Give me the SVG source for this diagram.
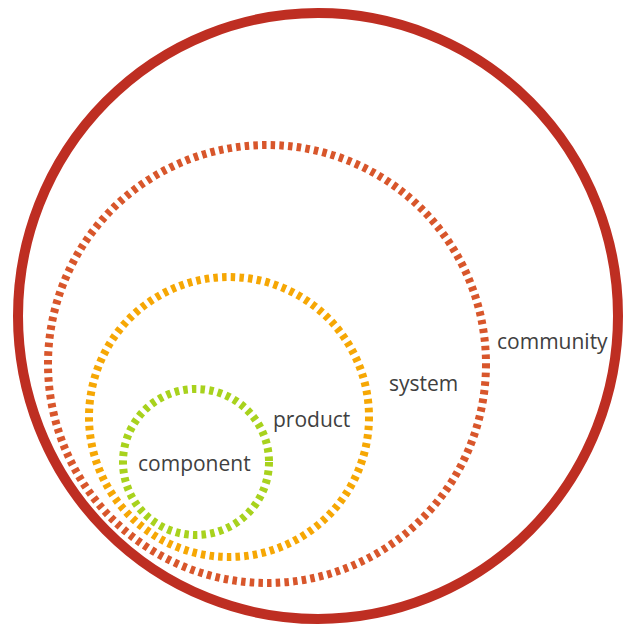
<svg xmlns="http://www.w3.org/2000/svg" width="623" height="626" viewBox="0 0 623 626">
  <style>
    .ring { fill: none; }
    .dashed { stroke-width: 8; stroke-dasharray: 4.5 4.2; }
    .label { font-family: "Open Sans", "Liberation Sans", sans-serif; font-size: 21px; fill: #404040; }
  </style>
  <rect width="623" height="626" fill="#ffffff"/>

  <g id="community">
    <ellipse class="ring" cx="318" cy="316" rx="300" ry="303" stroke="#BE2E22" stroke-width="10"/>
    <text class="label" x="497" y="349">community</text>
  </g>

  <g id="system">
    <circle class="ring dashed" cx="267" cy="364" r="219" stroke="#D8562B"/>
    <text class="label" x="389" y="391">system</text>
  </g>

  <g id="product">
    <circle class="ring dashed" cx="229" cy="417" r="140" stroke="#F6A704"/>
    <text class="label" x="273" y="427">product</text>
  </g>

  <g id="component">
    <circle class="ring dashed" cx="196" cy="462" r="73" stroke="#A8D21D"/>
    <text class="label" x="138" y="471">component</text>
  </g>

  <g id="connectors"/>
</svg>
